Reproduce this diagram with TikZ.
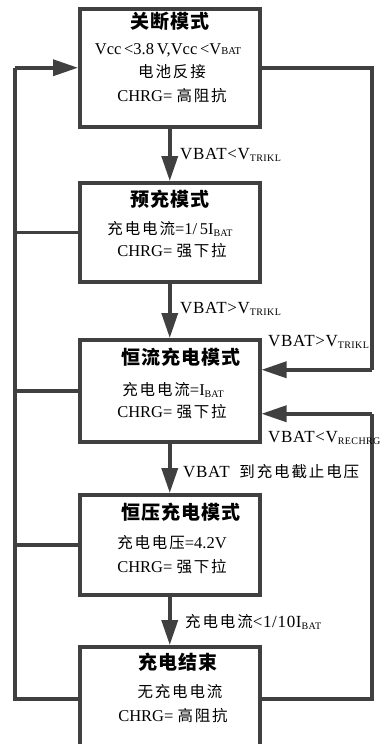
\documentclass[tikz,border=0pt]{standalone}
\usepackage{fontspec}
\setmainfont{Liberation Serif}
\newfontfamily\cjk[LetterSpace=12]{Noto Sans CJK SC}
\newfontfamily\cjkt[LetterSpace=5]{Noto Sans CJK SC}
\newfontfamily\lat[LetterSpace=4]{Liberation Serif}
\usetikzlibrary{arrows.meta}
\definecolor{ln}{HTML}{404040}
\newcommand\zh[1]{{\fontsize{15.5}{17}\selectfont\cjk #1}}
\newcommand\subx[1]{\raisebox{-0.3ex}{\fontsize{10}{10}\selectfont #1}}
\newcommand\smc[1]{{\fontsize{10.5}{10}\selectfont #1}}
\newcommand\ttl[1]{{\fontsize{19}{21}\selectfont\cjkt\bfseries #1}}
\begin{document}
\begin{tikzpicture}[x=1pt,y=-1pt,
  box/.style={draw=ln,line width=3.5pt,minimum width=180pt,anchor=north west,inner sep=0pt},
  txt/.style={inner sep=0pt,font=\fontsize{16.5}{18}\selectfont},
  lbl/.style={inner sep=0pt,anchor=west,font=\fontsize{17}{18}\selectfont\lat},
  conn/.style={draw=ln,line width=3.5pt},
  arr/.style={conn,-{Triangle[width=16pt,length=25pt]}}]
\useasboundingbox (0,0) rectangle (382,744);
\clip (0,0) rectangle (382,744);
% boxes
\node[box,minimum height=118pt] (b1) at (78,7) {};
\node[box,minimum height=99pt] (b2) at (78,181) {};
\node[box,minimum height=102pt] (b3) at (78,338) {};
\node[box,minimum height=100pt] (b4) at (78,493) {};
\node[box,minimum height=104pt] (b5) at (78,645) {};
% box texts
\node[txt] (t1) at (170,21) {\ttl{关断模式}};
\node[txt] (t1a) at (168,50) {Vcc\,<3.8\,V,Vcc\,<V\smc{BAT}};
\node[txt] (t1b) at (172,72) {\zh{电池反接}};
\node[txt] (t1c) at (172,96) {CHRG= \zh{高阻抗}};
\node[txt] (t2) at (170,199) {\ttl{预充模式}};
\node[txt] (t2a) at (170,229) {\zh{充电电流}=1/\,5I\subx{BAT}};
\node[txt] (t2b) at (172,251) {CHRG= \zh{强下拉}};
\node[txt] (t3) at (181,357) {\ttl{恒流充电模式}};
\node[txt] (t3a) at (173,390) {\zh{充电电流}=I\subx{BAT}};
\node[txt] (t3b) at (172,412) {CHRG= \zh{强下拉}};
\node[txt] (t4) at (181,512) {\ttl{恒压充电模式}};
\node[txt] (t4a) at (172,543) {\zh{充电电压}=4.2V};
\node[txt] (t4b) at (172,567) {CHRG= \zh{强下拉}};
\node[txt] (t5) at (178,662) {\ttl{充电结束}};
\node[txt] (t5a) at (180,692) {\zh{无充电电流}};
\node[txt] (t5b) at (173,716) {CHRG= \zh{高阻抗}};
% vertical arrows
\draw[arr] (b1.south) -- (b2.north);
\draw[arr] (b2.south) -- (b3.north);
\draw[arr] (b3.south) -- (b4.north);
\draw[arr] (b4.south) -- (b5.north);
% labels of vertical arrows
\node[lbl] (l1) at (180,155) {VBAT<V\subx{TRIKL}};
\node[lbl] (l2) at (180,309) {VBAT>V\subx{TRIKL}};
\node[lbl] (l5) at (183,472) {VBAT\ \ \zh{到充电截止电压}};
\node[lbl] (l6) at (185,622) {\zh{充电电流}<1/10I\subx{BAT}};
% left loop
\coordinate (L) at (15,0);
\draw[conn,line join=miter] (b5.west) -- (b5.west -| L) -- (b1.west -| L);
\draw[arr] (b1.west -| L) -- (b1.west);
\draw[conn] (b2.west) -- (b2.west -| L);
\draw[conn] (b3.west) -- (b3.west -| L);
\draw[conn] (b4.west) -- (b4.west -| L);
% right loops
\coordinate (R) at (372,0);
\coordinate (in1) at ([yshift=21pt]b3.east);
\coordinate (in2) at ([yshift=-23pt]b3.east);
\draw[conn,line join=miter] (b1.east) -- (b1.east -| R) -- (in1 -| R);
\draw[arr] (in1 -| R) -- (in1);
\draw[conn,line join=miter] (b5.east) -- (b5.east -| R) -- (in2 -| R);
\draw[arr] (in2 -| R) -- (in2);
\node[lbl] (l3) at (268,342) {VBAT>V\subx{TRIKL}};
\node[lbl] (l4) at (268,438) {VBAT<V\subx{RECHRG}};
\end{tikzpicture}
\end{document}
